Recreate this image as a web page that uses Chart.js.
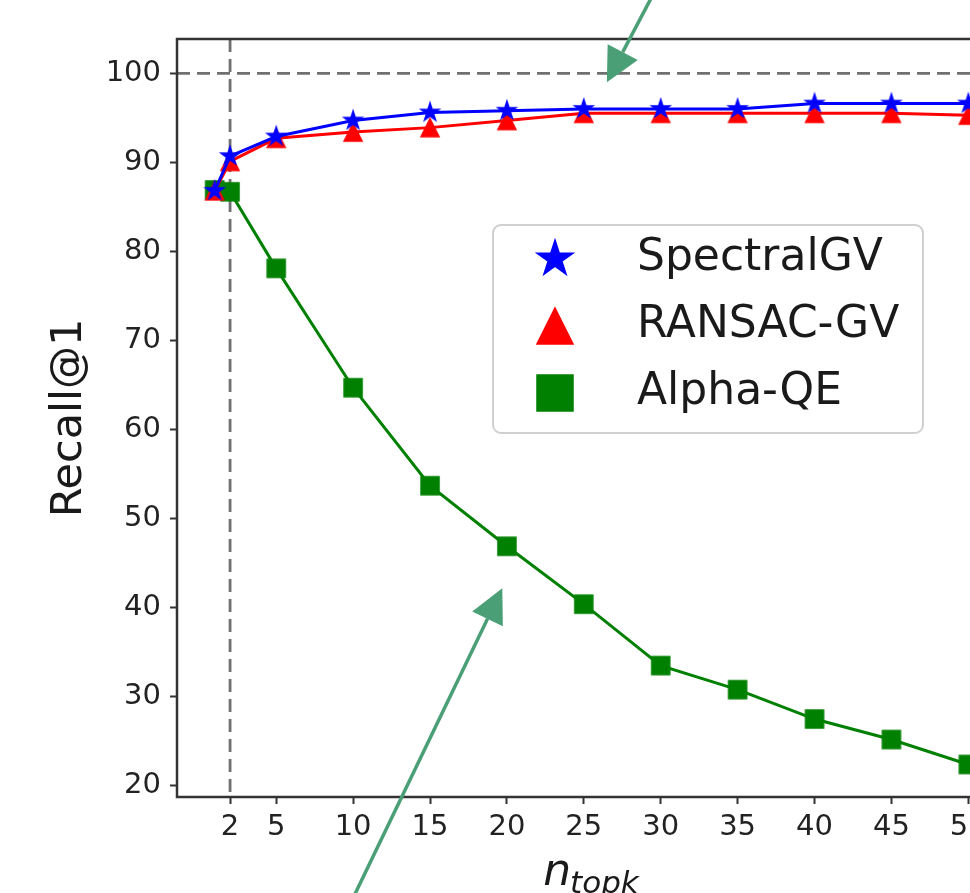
<!DOCTYPE html>
<html>
<head>
<meta charset="utf-8">
<script src="https://cdn.jsdelivr.net/npm/chart.js@4.4.0/dist/chart.umd.min.js"></script>
<style>
  html, body { margin: 0; padding: 0; background: #fff; overflow: hidden; }
  #wrap { width: 970px; height: 893px; overflow: hidden; }
</style>
</head>
<body>
<div id="wrap"><canvas id="graficoRecall" width="1030" height="893"></canvas></div>
<script>
// datos
const topk = [1, 2, 5, 10, 15, 20, 25, 30, 35, 40, 45, 50];
const spectralGV = [86.8, 90.7, 92.9, 94.7, 95.6, 95.8, 96.0, 96.0, 96.0, 96.6, 96.6, 96.6];
const ransacGV = [86.8, 90.1, 92.7, 93.4, 93.9, 94.7, 95.5, 95.5, 95.5, 95.5, 95.5, 95.3];
const alphaQE = [86.9, 86.7, 78.1, 64.7, 53.7, 46.9, 40.4, 33.5, 30.8, 27.5, 25.2, 22.4];
const xTicks = [2, 5, 10, 15, 20, 25, 30, 35, 40, 45, 50];
const yTicks = [20, 30, 40, 50, 60, 70, 80, 90, 100];
const refRecall = 100;
const refTopk = 2;

// flechas de anotacion (en coordenadas de datos: cola -> punta)
const flechas = [
  { from: [29.7, 109.5], to: [26.5, 99.0] },
  { from: [9.8, 6.7], to: [19.7, 42.2] }
];

const FONT = "'DejaVu Sans', sans-serif";

function makeMarker(shape, size, color) {
  const pad = 4;
  const c = document.createElement('canvas');
  c.width = c.height = Math.ceil(size + pad * 2);
  const g = c.getContext('2d');
  const cx = c.width / 2, cy = c.height / 2, r = size / 2;
  g.fillStyle = color;
  g.strokeStyle = color;
  g.lineWidth = 1.5;
  g.beginPath();
  if (shape === 'star') {
    for (let i = 0; i < 10; i++) {
      const a = -Math.PI / 2 + i * Math.PI / 5;
      const rr = i % 2 === 0 ? r * 1.05 : r * 0.4;
      g.lineTo(cx + rr * Math.cos(a), cy + rr * Math.sin(a));
    }
  } else if (shape === 'triangle') {
    g.moveTo(cx, cy - r);
    g.lineTo(cx + r, cy + r);
    g.lineTo(cx - r, cy + r);
  } else {
    g.rect(cx - r, cy - r, size, size);
  }
  g.closePath();
  g.fill();
  g.stroke();
  return c;
}

const series = [
  { label: 'SpectralGV', values: spectralGV, color: '#0000ff', shape: 'star' },
  { label: 'RANSAC-GV', values: ransacGV, color: '#ff0000', shape: 'triangle' },
  { label: 'Alpha-QE', values: alphaQE, color: '#008000', shape: 'square' }
];
series.forEach(s => {
  s.mark = makeMarker(s.shape, 18, s.color);
  s.legendMark = makeMarker(s.shape, 36, s.color);
});

function drawArrow(ctx, x0, y0, x1, y1) {
  const ang = Math.atan2(y1 - y0, x1 - x0);
  const hl = 34, hw = 17;
  const bx = x1 - hl * Math.cos(ang), by = y1 - hl * Math.sin(ang);
  ctx.beginPath();
  ctx.moveTo(x0, y0);
  ctx.lineTo(bx, by);
  ctx.stroke();
  ctx.beginPath();
  ctx.moveTo(x1, y1);
  ctx.lineTo(bx + hw * Math.sin(ang), by - hw * Math.cos(ang));
  ctx.lineTo(bx - hw * Math.sin(ang), by + hw * Math.cos(ang));
  ctx.closePath();
  ctx.fill();
}

const decor = {
  id: 'decor',
  beforeDatasetsDraw(chart) {
    const { ctx, chartArea: a, scales: { x, y } } = chart;
    ctx.save();
    ctx.beginPath();
    ctx.rect(a.left, a.top, a.right - a.left, a.bottom - a.top);
    ctx.clip();
    ctx.strokeStyle = '#707070';
    ctx.lineWidth = 2.8;
    ctx.setLineDash([13, 7]);
    ctx.beginPath();
    const yr = y.getPixelForValue(refRecall);
    ctx.moveTo(a.left, yr);
    ctx.lineTo(a.right, yr);
    const xr = x.getPixelForValue(refTopk);
    ctx.moveTo(xr, a.top);
    ctx.lineTo(xr, a.bottom);
    ctx.stroke();
    ctx.restore();
  },
  afterDraw(chart) {
    const { ctx, chartArea: a, scales: { x, y } } = chart;
    ctx.save();

    // marco
    ctx.strokeStyle = '#333';
    ctx.lineWidth = 2.5;
    ctx.strokeRect(a.left, a.top, a.right - a.left, a.bottom - a.top);

    // leyenda
    const lx = a.left + 316, ly = a.top + 186, lw = 430, lh = 208;
    ctx.fillStyle = 'rgba(255,255,255,0.85)';
    ctx.strokeStyle = '#d0d0d0';
    ctx.lineWidth = 2;
    ctx.beginPath();
    ctx.roundRect(lx, ly, lw, lh, 8);
    ctx.fill();
    ctx.stroke();
    ctx.font = '44px ' + FONT;
    ctx.textBaseline = 'middle';
    ctx.textAlign = 'left';
    ctx.fillStyle = '#1a1a1a';
    series.forEach((s, i) => {
      const cy = ly + 34 + i * 67;
      const m = s.legendMark;
      ctx.drawImage(m, lx + 62 - m.width / 2, cy - m.height / 2);
      ctx.fillText(s.label, lx + 144, cy);
    });

    // etiqueta del eje x: n_topk
    ctx.fillStyle = '#1a1a1a';
    ctx.textBaseline = 'alphabetic';
    const fBig = 'italic 44px ' + FONT, fSub = 'italic 31px ' + FONT;
    ctx.font = fBig;
    const wn = ctx.measureText('n').width;
    ctx.font = fSub;
    const ws = ctx.measureText('topk').width;
    const x0 = (a.left + a.right) / 2 - (wn + ws) / 2;
    ctx.font = fBig;
    ctx.fillText('n', x0, 885);
    ctx.font = fSub;
    ctx.fillText('topk', x0 + wn - 1, 893);

    // flechas
    ctx.strokeStyle = '#4a9f76';
    ctx.fillStyle = '#4a9f76';
    ctx.lineWidth = 3.5;
    flechas.forEach(f => {
      drawArrow(ctx,
        x.getPixelForValue(f.from[0]), y.getPixelForValue(f.from[1]),
        x.getPixelForValue(f.to[0]), y.getPixelForValue(f.to[1]));
    });
    ctx.restore();
  }
};

const ctxRecall = document.getElementById('graficoRecall').getContext('2d');
new Chart(ctxRecall, {
  type: 'line',
  data: {
    datasets: series.map(s => ({
      label: s.label,
      data: topk.map((t, i) => ({ x: t, y: s.values[i] })),
      borderColor: s.color,
      backgroundColor: s.color,
      borderWidth: 3,
      pointStyle: s.mark,
      pointRadius: 10,
      tension: 0
    }))
  },
  options: {
    responsive: false,
    animation: false,
    layout: { padding: { top: 39, right: 24, left: 0, bottom: 0 } },
    plugins: { legend: { display: false }, tooltip: { enabled: false } },
    scales: {
      x: {
        type: 'linear',
        min: -1.45,
        max: 52.45,
        afterBuildTicks: s => { s.ticks = xTicks.map(v => ({ value: v })); },
        afterFit: s => { s.height = 96; },
        border: { display: false },
        grid: { drawOnChartArea: false, tickLength: 7, tickWidth: 2, color: '#333' },
        ticks: { font: { family: FONT, size: 29 }, color: '#222', padding: 6, maxRotation: 0, autoSkip: false }
      },
      y: {
        min: 18.75,
        max: 103.85,
        afterBuildTicks: s => { s.ticks = yTicks.map(v => ({ value: v })); },
        afterFit: s => { s.width = 177; },
        border: { display: false },
        grid: { drawOnChartArea: false, tickLength: 7, tickWidth: 2, color: '#333' },
        ticks: { font: { family: FONT, size: 29 }, color: '#222', padding: 9 },
        title: { display: true, text: 'Recall@1', font: { family: FONT, size: 43 }, color: '#1a1a1a', padding: { top: 44, bottom: 0 } }
      }
    }
  },
  plugins: [decor]
});
</script>
</body>
</html>
